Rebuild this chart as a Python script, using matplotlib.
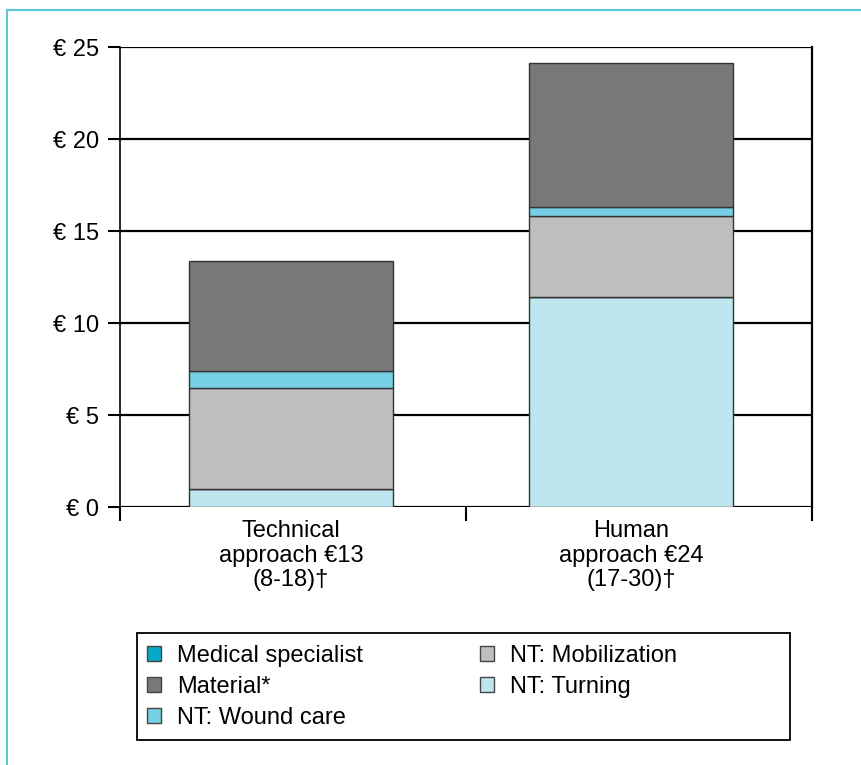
import matplotlib
matplotlib.use("Agg")
import matplotlib.pyplot as plt
from matplotlib.patches import Rectangle, Patch
from matplotlib.lines import Line2D

plt.rcParams['font.family'] = ['Liberation Sans', 'DejaVu Sans']

categories = ["Technical\napproach €13\n(8-18)†", "Human\napproach €24\n(17-30)†"]
series_names = ["NT: Turning", "Medical specialist", "NT: Mobilization", "NT: Wound care", "Material*"]
turning = [1.0, 11.4]
medical = [0.0, 0.0]
mobilization = [5.45, 4.4]
wound_care = [0.95, 0.5]
material = [5.95, 7.85]
yticks = [0, 5, 10, 15, 20, 25]
ytick_labels = ["€ 0", "€ 5", "€ 10", "€ 15", "€ 20", "€ 25"]

colors = {
    "Medical specialist": "#0aa8c8",
    "Material*": "#787878",
    "NT: Wound care": "#76cfe2",
    "NT: Mobilization": "#bebebe",
    "NT: Turning": "#bee6ef",
}
values = {
    "NT: Turning": turning,
    "Medical specialist": medical,
    "NT: Mobilization": mobilization,
    "NT: Wound care": wound_care,
    "Material*": material,
}

FS = 17

fig = plt.figure(figsize=(8.62, 7.65), dpi=100)
ax = fig.add_axes([120/862, 258/765, 692/862, 460/765])

x = list(range(len(categories)))
bottom = [0.0] * len(categories)
for name in series_names:
    v = values[name]
    ax.bar(x, v, bottom=bottom, width=0.6, color=colors[name],
           edgecolor="#333333", linewidth=1.0, zorder=3)
    bottom = [b + vi for b, vi in zip(bottom, v)]

ax.set_xlim(-0.503, 1.532)
ax.set_ylim(0, 25)
ax.set_yticks(yticks)
ax.set_yticklabels(ytick_labels, fontsize=FS)
for yv in yticks:
    ax.axhline(yv, color="black", linewidth=1.6, zorder=1)

ax.set_xticks([-0.503, 0.515, 1.532])
ax.set_xticklabels([])
ax.tick_params(axis="x", length=10, width=1.5, direction="out")
ax.tick_params(axis="y", length=9, width=1.5, direction="out", pad=6)
for i, c in enumerate(categories):
    ax.text(x[i], -0.7, c, ha="center", va="top", fontsize=FS,
            linespacing=1.16)

for s in ["top", "bottom"]:
    ax.spines[s].set_visible(False)
ax.spines["left"].set_linewidth(1.2)
ax.spines["right"].set_linewidth(1.6)
ax.spines["left"].set_zorder(4)

# legend frame
fig.patches.append(Rectangle((137/862, 25/765), 653/862, 107/765,
                             transform=fig.transFigure, fill=False,
                             edgecolor="black", linewidth=1.3))
labels = ["Medical specialist", "Material*", "NT: Wound care",
          "NT: Mobilization", "NT: Turning"]
handles = [Patch(facecolor=colors[n], edgecolor="#444444", linewidth=1.0)
           for n in labels]
fig.legend(handles, labels, ncol=2, loc="upper left",
           bbox_to_anchor=(147/862, 1 - 645/765), frameon=False,
           fontsize=FS, handlelength=0.6, handleheight=0.6,
           handletextpad=0.68, labelspacing=0.38, columnspacing=4.95,
           borderpad=0, borderaxespad=0)

# figure border lines
fig.add_artist(Line2D([7/862, 7/862], [0, 1 - 10/765], transform=fig.transFigure,
                      color="#5bc5dc", linewidth=1.5))
fig.add_artist(Line2D([7/862, 1], [1 - 10/765, 1 - 10/765], transform=fig.transFigure,
                      color="#5bc5dc", linewidth=1.5))

fig.savefig("out.png", dpi=100)
